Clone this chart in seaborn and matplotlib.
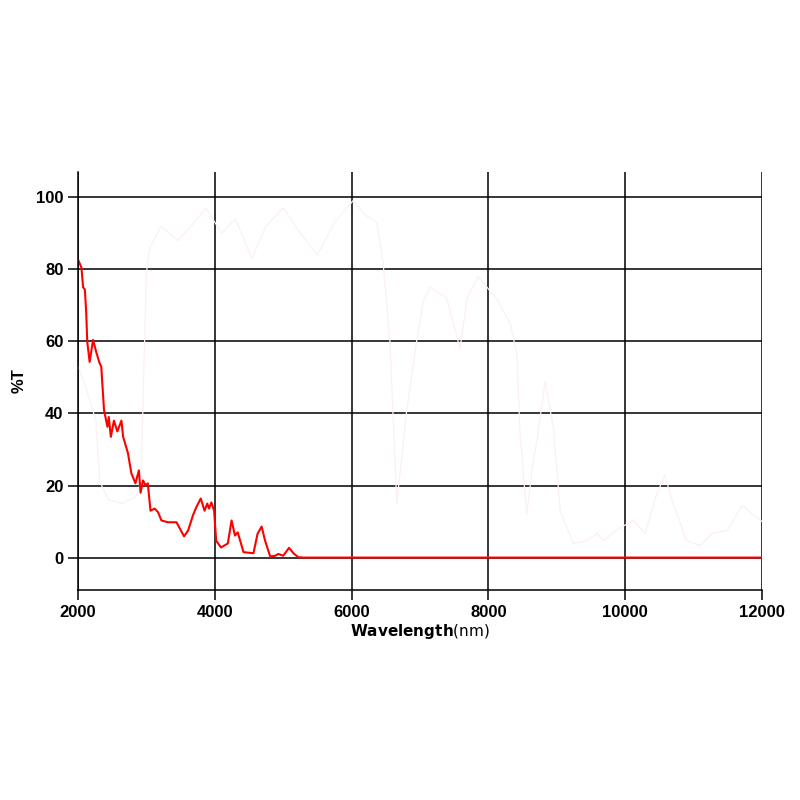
import matplotlib
matplotlib.use("Agg")
import matplotlib.pyplot as plt
import pandas as pd
import seaborn as sns

# main transmission curve (red)
wl_red = [2000, 2050, 2075, 2100, 2120, 2135, 2170, 2220, 2270, 2315, 2340, 2380,
          2430, 2450, 2480, 2525, 2575, 2635, 2660, 2730, 2780, 2840, 2890, 2915,
          2950, 2990, 3020, 3060, 3120, 3170, 3220, 3315, 3440, 3550, 3610, 3680,
          3730, 3795, 3850, 3890, 3915, 3950, 3990, 4020, 4090, 4190, 4245, 4295,
          4335, 4420, 4565, 4625, 4685, 4735, 4810, 4880, 4930, 5000, 5085, 5150,
          5220, 5300, 8000, 12000]
t_red = [82.7, 80.5, 75, 74.4, 68, 60, 54.3, 60.4, 56.8, 54, 53, 41,
         36.3, 39, 33.5, 38, 35, 38, 33.5, 29, 23.4, 20.6, 24.2, 18,
         21.4, 20, 20.6, 13, 13.6, 12.6, 10.3, 9.8, 9.8, 5.9, 7.5, 11.7,
         14, 16.4, 13, 15, 13.6, 15.3, 13, 4.7, 2.8, 3.9, 10.3, 6.1,
         7, 1.5, 1.2, 6.6, 8.6, 4.7, 0.3, 0.5, 1, 0.5, 2.7, 1.2,
         0.1, 0, 0, 0]

# faint background curve
wl_ghost = [2000, 2100, 2200, 2260, 2320, 2450, 2650, 2850, 2920, 3000, 3050, 3215,
            3460, 3700, 3870, 4100, 4300, 4540, 4750, 5000, 5250, 5500, 5750, 6020,
            6200, 6370, 6460, 6560, 6660, 6800, 6950, 7045, 7150, 7390, 7585, 7690,
            7850, 7980, 8125, 8320, 8420, 8460, 8560, 8650, 8710, 8830, 8950, 9050,
            9240, 9440, 9590, 9680, 9900, 10120, 10290, 10465, 10580, 10700, 10900,
            11100, 11270, 11490, 11710, 11870, 12000]
t_ghost = [53, 48, 42, 38, 21, 16, 15, 17, 21, 79, 86, 92,
           88, 93, 97, 90, 94, 83, 92, 97, 90, 84, 93, 99,
           95, 93, 82, 60, 15, 40, 60, 71, 75, 72, 58, 72,
           78, 75, 71.6, 65, 56, 35, 12, 26, 32.6, 48.8, 36, 13,
           3.9, 4.7, 6.7, 4.7, 8, 10.3, 6.7, 17.8, 22.8, 15, 4.7,
           3.3, 6.7, 7.5, 14.5, 12, 10]

x_ticks = [2000, 4000, 6000, 8000, 10000, 12000]
y_ticks = [0, 20, 40, 60, 80, 100]

df_red = pd.DataFrame({"wl": wl_red, "t": t_red})
df_ghost = pd.DataFrame({"wl": wl_ghost, "t": t_ghost})

sns.set_style("ticks")
plt.rcParams["font.family"] = ["Liberation Sans", "DejaVu Sans"]
plt.rcParams["text.color"] = "black"
plt.rcParams["axes.labelcolor"] = "black"
plt.rcParams["xtick.color"] = "black"
plt.rcParams["ytick.color"] = "black"

fig = plt.figure(figsize=(8, 8), dpi=100)
ax = fig.add_axes([0.0975, 0.2625, 0.855, 0.5225])

sns.lineplot(data=df_ghost, x="wl", y="t", color="#fdf0f0", linewidth=0.9, ax=ax)
sns.lineplot(data=df_red, x="wl", y="t", color="red", linewidth=1.5, ax=ax)

ax.set_xlim(2000, 12000)
ax.set_ylim(-9, 107)
ax.set_xticks(x_ticks)
ax.set_yticks(y_ticks)
ax.grid(True, color="black", linewidth=1.1)
ax.set_axisbelow(True)

for side in ["top", "right"]:
    ax.spines[side].set_visible(False)
for side in ["left", "bottom"]:
    ax.spines[side].set_color("black")
    ax.spines[side].set_linewidth(1.1)

ax.tick_params(axis="both", length=7, width=1.1, color="black",
               labelcolor="black", labelsize=12)
for lab in ax.get_xticklabels() + ax.get_yticklabels():
    lab.set_fontweight("bold")

ax.set_xlabel(r"$\bf{Wavelength}$(nm)", fontsize=11, family="DejaVu Sans",
              color="black", labelpad=2)
ax.set_ylabel("%T", fontsize=12, fontweight="bold", color="black")
ax.yaxis.set_label_coords(-0.075, 0.5)

fig.savefig("out.png", dpi=100)
